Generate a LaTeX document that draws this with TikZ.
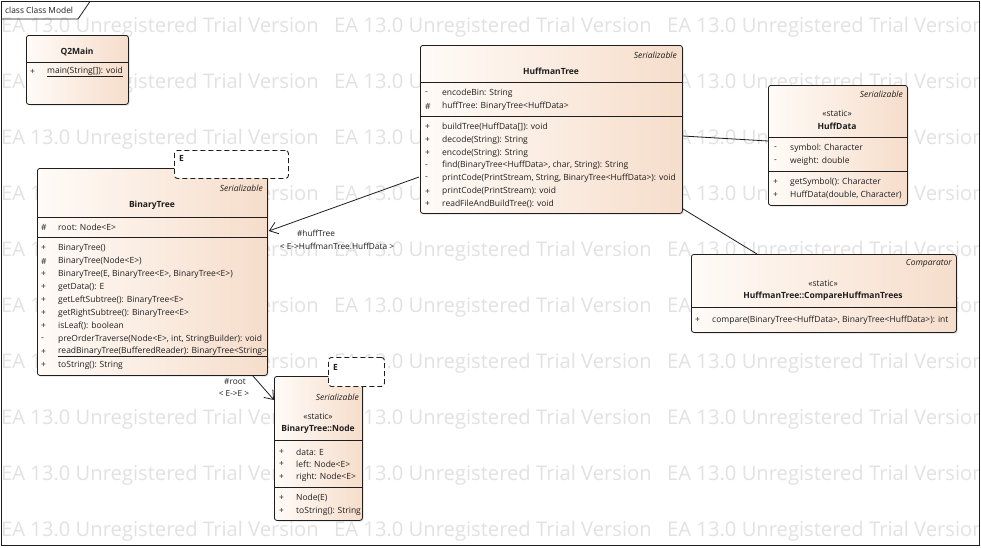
\documentclass[tikz,border=0pt]{standalone}
\usepackage{fontspec}
\setmainfont{Open Sans}
\usetikzlibrary{arrows.meta,shadows,calc}
\definecolor{boxL}{RGB}{255,251,247}
\definecolor{boxR}{RGB}{246,221,203}
\definecolor{wm}{RGB}{226,226,226}
\definecolor{ink}{RGB}{30,30,30}
\newcommand{\memsize}{\fontsize{8.5}{9}\selectfont}
\tikzset{
 cls/.style={draw=ink, line width=0.8pt, rounded corners=2.5pt, left color=boxL, right color=boxR,
   anchor=north west, inner sep=0pt, drop shadow={opacity=0.25, shadow xshift=1.2pt, shadow yshift=-1.2pt}},
 tpl/.style={draw=ink, dash pattern=on 5pt off 3pt, line width=0.9pt, fill=white, rounded corners=3pt,
   anchor=north west, inner sep=0pt},
 mem/.style={font=\memsize, anchor=west, inner sep=0pt, text=ink},
 ttl/.style={font=\memsize\bfseries, anchor=center, inner sep=0pt, text=ink},
 ster/.style={font=\memsize\itshape, anchor=east, inner sep=0pt, text=ink},
 wmk/.style={font=\fontsize{20.2}{21}\selectfont, text=wm, anchor=west, inner sep=0pt},
 sep/.style={draw=ink, line width=0.8pt},
 assoc/.style={draw=ink, line width=0.8pt},
 nav/.style={assoc, -{Straight Barb[length=8pt,width=12pt]}},
 lbl/.style={font=\fontsize{8.3}{9}\selectfont, inner sep=0pt, text=ink}
}
\begin{document}
\begin{tikzpicture}[x=1pt,y=-1pt]
\useasboundingbox (0,0) rectangle (981,547);
\fill[white] (0,0) rectangle (981,547);
% watermark
\begin{scope}
\clip (0,0) rectangle (979,546);
\foreach \r in {0,...,9}{
  \foreach \c in {0,1,2}{
    \node[wmk] (wm-\r-\c) at ({1+333*\c},{27+56*\r}) {EA 13.0 Unregistered Trial Version};
  }
}
\end{scope}
% frame
\draw[ink, line width=0.8pt] (1.5,1.5) rectangle (979.5,545.5);
\draw[ink, line width=0.8pt] (1.5,19) -- (78,19) -- (90,1.5);
\node[mem, font=\fontsize{8.4}{9}\selectfont] (frame) at (5,10) {class Class Model};

% Q2Main
\node[cls, minimum width=102pt, minimum height=69pt] (q2) at (26,35) {};
\node[ttl] (q2-t) at (77,52) {Q2Main};
\draw[sep] ($(q2.north west)+(0,27)$) -- ($(q2.north east)+(0,27)$);
\node[mem] (q2-v1) at (30,72) {+};
\node[mem] (q2-m1) at (47,72) {\underline{main(String[]): void}};

% HuffmanTree
\node[cls, minimum width=262pt, minimum height=168pt] (hm) at (420,45) {};
\node[ster] (hm-s) at (677,55) {Serializable};
\node[ttl] (hm-t) at (551,71) {HuffmanTree};
\draw[sep] ($(hm.north west)+(0,37)$) -- ($(hm.north east)+(0,37)$);
\node[mem] (hm-v1) at (425,93) {-};
\node[mem] (hm-a1) at (442,93) {encodeBin: String};
\node[mem] (hm-v2) at (425,106) {\#};
\node[mem] (hm-a2) at (442,106) {huffTree: BinaryTree<HuffData>};
\draw[sep] ($(hm.north west)+(0,71)$) -- ($(hm.north east)+(0,71)$);
\foreach \v/\t [count=\i from 0] in {+/buildTree(HuffData[]): void, +/decode(String): String, +/encode(String): String,
  -/{find(BinaryTree<HuffData>, char, String): String}, -/{printCode(PrintStream, String, BinaryTree<HuffData>): void},
  +/printCode(PrintStream): void, +/readFileAndBuildTree(): void}{
  \node[mem] (hm-vm\i) at (425,{127+12.9*\i}) {\v};
  \node[mem] (hm-m\i) at (442,{127+12.9*\i}) {\t};
}

% HuffData
\node[cls, minimum width=139pt, minimum height=120pt] (hd) at (768,85) {};
\node[ster] (hd-s) at (903,94) {Serializable};
\node[mem, anchor=center] (hd-st) at (837,113) {«static»};
\node[ttl] (hd-t) at (837,126) {HuffData};
\draw[sep] ($(hd.north west)+(0,52)$) -- ($(hd.north east)+(0,52)$);
\node[mem] (hd-v1) at (774,148) {-};
\node[mem] (hd-a1) at (790,148) {symbol: Character};
\node[mem] (hd-v2) at (774,161) {-};
\node[mem] (hd-a2) at (790,161) {weight: double};
\draw[sep] ($(hd.north west)+(0,86)$) -- ($(hd.north east)+(0,86)$);
\node[mem] (hd-v3) at (773,182) {+};
\node[mem] (hd-m1) at (790,182) {getSymbol(): Character};
\node[mem] (hd-v4) at (773,195) {+};
\node[mem] (hd-m2) at (790,195) {HuffData(double, Character)};

% CompareHuffmanTrees
\node[cls, minimum width=265pt, minimum height=78pt] (cmp) at (691,254) {};
\node[ster] (cmp-s) at (952,263) {Comparator};
\node[mem, anchor=center] (cmp-st) at (823,283) {«static»};
\node[ttl] (cmp-t) at (823,296) {HuffmanTree::CompareHuffmanTrees};
\draw[sep] ($(cmp.north west)+(0,53)$) -- ($(cmp.north east)+(0,53)$);
\node[mem] (cmp-v1) at (695,320) {+};
\node[mem] (cmp-m1) at (712,320) {compare(BinaryTree<HuffData>, BinaryTree<HuffData>): int};

% BinaryTree
\node[cls, minimum width=230pt, minimum height=207pt] (bt) at (37,168) {};
\node[tpl, minimum width=114pt, minimum height=28pt] (btE) at (174,150) {};
\node[mem, font=\memsize\bfseries] (btE-t) at (179,158) {E};
\node[ster] (bt-s) at (263,188) {Serializable};
\node[ttl] (bt-t) at (152,205) {BinaryTree};
\draw[sep] ($(bt.north west)+(0,49)$) -- ($(bt.north east)+(0,49)$);
\node[mem] (bt-v0) at (41,227) {\#};
\node[mem] (bt-a1) at (58,227) {root: Node<E>};
\draw[sep] ($(bt.north west)+(0,69)$) -- ($(bt.north east)+(0,69)$);
\foreach \v/\t [count=\i from 0] in {+/BinaryTree(), \#/BinaryTree(Node<E>), +/{BinaryTree(E, BinaryTree<E>, BinaryTree<E>)},
  +/getData(): E, +/getLeftSubtree(): BinaryTree<E>, +/getRightSubtree(): BinaryTree<E>, +/isLeaf(): boolean,
  -/{preOrderTraverse(Node<E>, int, StringBuilder): void}, +/\underline{readBinaryTree(BufferedReader): BinaryTree<String>},
  +/toString(): String}{
  \node[mem] (bt-vm\i) at (41,{248+13*\i}) {\v};
  \node[mem] (bt-m\i) at (58,{248+13*\i}) {\t};
}

% BinaryTree::Node
\node[cls, minimum width=88pt, minimum height=144pt] (nd) at (274,376) {};
\node[tpl, minimum width=56pt, minimum height=29pt] (ndE) at (328,357) {};
\node[mem, font=\memsize\bfseries] (ndE-t) at (333,367) {E};
\node[ster] (nd-s) at (359,397) {Serializable};
\node[mem, anchor=center] (nd-st) at (318,416) {«static»};
\node[ttl] (nd-t) at (318,429) {BinaryTree::Node};
\draw[sep] ($(nd.north west)+(0,64)$) -- ($(nd.north east)+(0,64)$);
\node[mem] (nd-v1) at (279,452) {+};
\node[mem] (nd-a1) at (296,452) {data: E};
\node[mem] (nd-v2) at (279,464) {+};
\node[mem] (nd-a2) at (296,464) {left: Node<E>};
\node[mem] (nd-v3) at (279,477) {+};
\node[mem] (nd-a3) at (296,477) {right: Node<E>};
\draw[sep] ($(nd.north west)+(0,111)$) -- ($(nd.north east)+(0,111)$);
\node[mem] (nd-v4) at (279,498) {+};
\node[mem] (nd-m1) at (296,498) {Node(E)};
\node[mem] (nd-v5) at (279,511) {+};
\node[mem] (nd-m2) at (296,511) {toString(): String};

% connectors
\draw[nav] ($(hm.north west)+(-1,132)$) -- ($(bt.north east)+(1,63)$);
\node[lbl] (l-huff) at (316,233) {\#huffTree};
\node[lbl] (l-huffb) at (337,246) {< E->HuffmanTree.HuffData >};
\draw[assoc] ($(hm.north east)+(0,91)$) -- ($(hd.north west)+(0,56)$);
\draw[assoc] ($(hm.south east)+(0,-5)$) -- ($(cmp.north west)+(66,0)$);
\draw[nav] ($(bt.south east)+(-15,0)$) -- ($(nd.north west)+(0,24)$);
\node[lbl] (l-root) at (235,382) {\#root};
\node[lbl] (l-rootb) at (234,394) {< E->E >};
\end{tikzpicture}
\end{document}
